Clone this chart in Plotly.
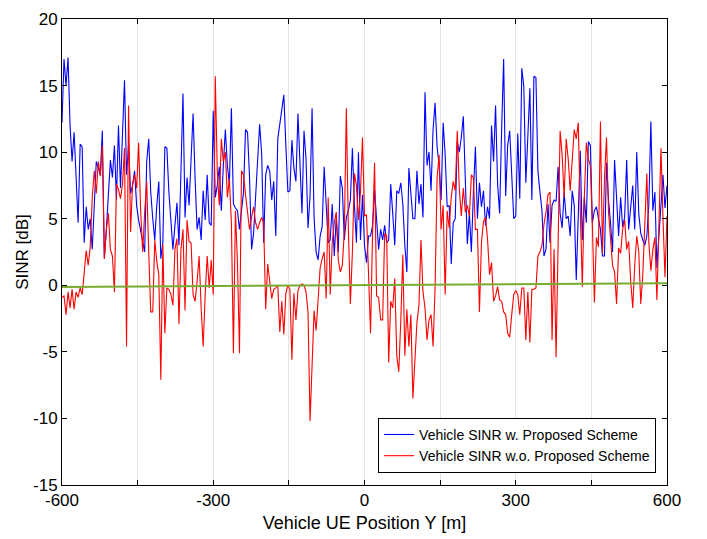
import plotly.graph_objects as go

# Vehicle UE position Y [m], sampled every 4 m
x_start, x_step = -600, 4

sinr_proposed = [
    12.2, 17, 15, 17.1, 12, 9.3, 11.5, 8, 4.7, 10.6,
    10.4, 3.2, 5.9, 4.2, 5.0, 2.7, 6.6, 9.3, 8.8, 8.3,
    11.6, 2.0, 4.2, 6.6, 9.4, 8.1, 10.5, 6.4, 12.0, 7.3,
    12, 15.4, 8.3, 10.5, 6.9, 7.5, 8.6, 6, 4.9, 4.2,
    3.3, 2.5, 9.3, 11, 7, 5, 3.4, 6, 7.8, 2.0,
    3.2, 10.4, 10.3, 7, 4.9, 2.7, 4.5, 6.2, 3.0, 9,
    14.4, 5.1, 8.1, 6, 10, 12.9, 8, 4.2, 5.1, 3.4,
    7.1, 4.9, 8.3, 4.7, 4.5, 13.1, 6.6, 7.5, 8.9, 5.6,
    9, 11.7, 9.0, 7.6, 13.3, 6.1, 5.8, 5.6, 4.2, 5.9,
    7, 11.7, 11.5, 8.1, 2.7, 3.9, 6.5, 10, 12.1, 9.9,
    3.2, 8.3, 9.0, 8.6, 6.4, 7.8, 3.7, 11, 12.1, 12.8,
    14.3, 10.5, 7.0, 7.1, 10.9, 8.8, 7.8, 12.9, 8.3, 5.4,
    11.6, 9.5, 4.3, 6.7, 13.3, 5.1, 2.5, 1.9, 3.7, 4.4,
    8.9, 5.5, 3.2, 3.4, 6.1, 2.2, 5.1, 2.5, 8.2, 7.3,
    3.4, 5.1, 5.6, 6.4, 10.3, 6, 3.2, 10.0, 3.4, 6.8,
    3.0, 1.7, 3.7, 3.7, 4.5, 7.2, 5.0, 2.7, 4.2, 3.4,
    4.5, 3.2, 3.4, 7.6, 5.4, 3.0, 7.1, 6.9, 7.7, 6.1,
    3.0, 1.0, 8.8, 6.6, 5.0, 5.0, 8.6, 6.1, 7.6, 5.1,
    14.5, 9.0, 10.0, 7.1, 11.7, 13.7, 10.4, 9, 6.4, 12.2,
    9.8, 5.9, 6, 1.6, 4.7, 5, 10.8, 10, 11.1, 12.7,
    7, 3.1, 5.4, 2.5, 7, 10.4, 5, 7.7, 5.9, 7.1,
    4.5, 5.9, 5, 12, 9.3, 13.5, 7.6, 5.4, 11.7, 17,
    6.7, 10.5, 11.6, 8.3, 5.0, 5.2, 11.4, 6.5, 16.3, 14.9,
    7.7, 11.2, 14.8, 6.4, 15.7, 15.6, 8.6, 7, 5.6, 2.2,
    2.7, 6.1, 3.2, 6, 6.4, 6.3, 8.9, 5.4, 4.3, 7,
    5.0, 5.2, 3.7, 7.1, 6, 0.4, 5.6, 10.1, 3.4, 6.6,
    4.7, 10.8, 10.5, 4.7, 5.6, 5.9, 5, 4.2, 2.2, 2.2,
    9.2, 6.4, 4.7, 2.5, 9.4, 6.6, 3.7, 6.6, 4.4, 5.1,
    9.4, 4.2, 5.6, 7.5, 4.2, 10, 5.4, 3.9, 3.4, 3,
    3.7, 6.1, 12.3, 5.6, 7, 1.3, 3.7, 5.9, 8.3, 5.8,
    7.5,
]

sinr_baseline = [
    -0.9, -0.8, -2.2, -0.5, -1.7, -0.3, -1.8, -0.5, -0.9, -0.2,
    -0.7, 1.2, 2.6, 1.5, 2.9, 6.6, 8.6, 6.9, 9.3, 8.2,
    10.5, 2.0, 4.2, 5.4, 2.7, 2.2, -0.5, 7.6, 7.2, 6.5,
    7.6, 10.3, -4.6, 13.5, 4, 7.6, 8.3, 7.3, 10.7, 5.6,
    2.5, 5.5, 7.8, 2.5, -2, -2, 3.4, 1.8, 0.8, -7.1,
    3.1, -3.6, -0.2, -0.3, -0.7, -1.5, 2.7, 3.5, -2.9, 2.7,
    4.2, -1.9, 4.9, 3.3, 3.2, -0.7, -1.2, 0.3, 2.2, -1.7,
    -4.6, -0.7, 2.2, -0.2, 1.9, -0.7, 15.7, 8.6, 6, 11,
    9.3, 10, 6.6, 8, 4.7, -5.1, 5.6, 1.7, -5.1, 8.6,
    8.3, 6.8, 5.6, 4.2, 5.1, 5.9, 4.7, 4.2, 4.7, 5.1,
    4.7, -1.8, 1.6, 0.5, -1.0, -0.3, -0.2, 0, -3.5, -1.2,
    -3.7, -0.6, 0, -0.3, -5.6, -0.6, -2.6, -0.4, 0, 0.1,
    0, -0.5, -2, -10.2, -5.4, -1.9, -3.4, -1.2, 1.3, 2,
    2.5, -1.0, 6.6, -0.7, 3.2, 4.7, 5.5, 1.9, 1, 1.5,
    4, 13.3, 4.2, -1.4, 2.5, 8.4, 7.5, 4.9, 7, 11.1,
    5.2, 5.3, 0.3, -3.6, 4, 9.2, -0.8, -0.9, -2.6, -2.6,
    3.9, 3.7, -5.8, -1.2, -1.7, 0.5, -5.3, -6.5, -2.6, 2.3,
    -5.3, -1.8, -4.6, -2.2, -8.5, -5.3, -2.8, -1.5, 3.4, -0.5,
    -1.7, -4.1, -2.6, -2.2, -4.6, -0.2, 8.1, 9.8, 4.2, 6,
    -0.7, 5.6, 4.3, 6.6, 7.8, 7.1, 11.6, 7.3, 5.2, 7.3,
    5.5, 6, 5.2, 8.3, 8.1, 4.2, 4.2, -2, 3.2, 4.8,
    5.1, 3.5, 0.8, 1.7, -1.2, -0.8, -0.1, -1.1, -1.2, -2,
    -2.2, -3.6, -3.9, -2.2, -0.7, -0.4, -0.7, -2.2, -0.2, -0.2,
    -4.1, -0.5, -4.3, -0.3, -0.3, -0.2, 2.2, 2.5, 3, 4.6,
    5.5, 6.8, 7, -4.1, 2.7, -5.4, 2.2, 11.6, 9.8, 6.6,
    11, 9.5, 7.1, 9.5, 11.7, 11, 12.2, 5.6, -0.1, 6.6,
    10.7, 9.5, 9, 4.5, -1.3, 3.6, 2.9, 12.3, 2.4, 8,
    11.1, 5.5, 3.7, 1.5, 1, -1.4, 2.8, 2.4, 4.2, 4.9,
    2.7, 3.3, 0.3, -1.7, 1.5, 3.7, 2.5, -1.4, 0.8, 4.2,
    8.4, 3.2, 1.1, 2.7, 3.6, -1.1, 5.1, 10.3, 5.1, 0.6,
    5.2,
]

threshold_x = [-600, 600]
threshold_y = [-0.12, 0.15]

x_tick_vals = [-600, -450, -300, -150, 0, 150, 300, 450, 600]
x_tick_text = ["-600", "", "-300", "", "0", "", "300", "", "600"]
y_tick_vals = [-15, -10, -5, 0, 5, 10, 15, 20]
y_tick_text = ["-15", "-10", "-5", "0", "5", "10", "15", "20"]

positions = [x_start + x_step * i for i in range(len(sinr_proposed))]

regular = "Liberation Sans, Arial, Helvetica, sans-serif"

fig = go.Figure()
fig.add_trace(go.Scatter(x=positions, y=sinr_proposed, mode="lines",
                         line=dict(color="#0000FF", width=1.1),
                         name="Vehicle SINR w. Proposed Scheme"))
fig.add_trace(go.Scatter(x=positions, y=sinr_baseline, mode="lines",
                         line=dict(color="#FF0000", width=1.1),
                         name="Vehicle SINR w.o. Proposed Scheme"))
fig.add_trace(go.Scatter(x=threshold_x, y=threshold_y, mode="lines",
                         line=dict(color="#77AC30", width=2),
                         showlegend=False, hoverinfo="skip"))

fig.update_layout(
    width=707, height=539,
    margin=dict(l=62, r=40, t=10, b=50),
    paper_bgcolor="white", plot_bgcolor="white",
    font=dict(family=regular, size=17, color="black"),
    showlegend=True,
    legend=dict(x=0.982, y=0.026, xanchor="right", yanchor="bottom",
                bgcolor="white", bordercolor="black", borderwidth=1,
                font=dict(family=regular, size=14, color="black"),
                tracegroupgap=0),
    xaxis=dict(range=[-600, 600], tickvals=x_tick_vals, ticktext=x_tick_text,
               ticks="inside", ticklen=5, tickcolor="black",
               showgrid=True, gridcolor="#e3e3e3", gridwidth=1,
               showline=True, linecolor="black", linewidth=1, mirror="ticks",
               zeroline=False,
               title=dict(text="Vehicle UE Position Y [m]", standoff=6,
                          font=dict(family=regular, size=18)),
               tickfont=dict(family=regular, size=17)),
    yaxis=dict(range=[-15, 20], tickvals=y_tick_vals, ticktext=y_tick_text,
               ticks="inside", ticklen=5, tickcolor="black",
               showgrid=False,
               showline=True, linecolor="black", linewidth=1, mirror="ticks",
               zeroline=False,
               title=dict(text="SINR [dB]", standoff=0,
                          font=dict(family=regular, size=17)),
               tickfont=dict(family=regular, size=17)),
)

fig.write_html("out.html")
